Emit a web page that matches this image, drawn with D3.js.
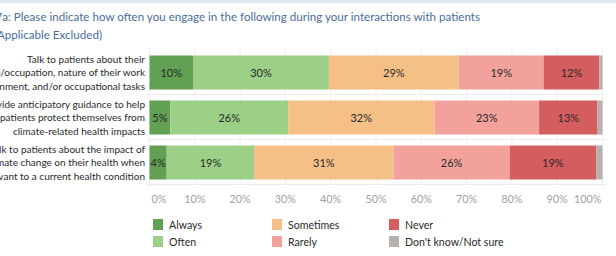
<!DOCTYPE html>
<html><head><meta charset="utf-8">
<script src="https://cdn.jsdelivr.net/npm/d3@7"></script>
<style>
html,body{margin:0;padding:0;background:#fff;overflow:hidden}
svg{display:block;font-family:Lato,"Noto Sans",sans-serif}
</style></head>
<body><svg id="c" width="616" height="256"></svg>
<script>
const categories = [
  ["Talk to patients about their", "job/occupation, nature of their work", "environment, and/or occupational tasks"],
  ["Provide anticipatory guidance to help", "patients protect themselves from", "climate-related health impacts"],
  ["Talk to patients about the impact of", "climate change on their health when", "relevant to a current health condition"]
];
const seriesNames = ["Always", "Often", "Sometimes", "Rarely", "Never", "Don't know/Not sure"];
const seriesColors = ["#62a053", "#9bd086", "#f5c086", "#f2a19c", "#d45d5f", "#b8b0ac"];
const always    = [9.6, 4.6, 3.8];
const often     = [30.0, 26.0, 19.3];
const sometimes = [28.7, 32.3, 30.8];
const rarely    = [18.7, 23.1, 25.6];
const never     = [12.3, 12.9, 19.1];
const dontKnow  = [0.7, 1.1, 1.4];
const tickValues = [0, 10, 20, 30, 40, 50, 60, 70, 80, 90, 100];
const titleLine1 = "Q7a: Please indicate how often you engage in the following during your interactions with patients";
const titleLine2 = "(Not Applicable Excluded)";

const series = [always, often, sometimes, rarely, never, dontKnow];
const svg = d3.select("#c");

// top band
svg.append("rect").attr("x", 0).attr("y", 0).attr("width", 616).attr("height", 3).attr("fill", "#dce8f3");

// title
const t1 = svg.append("text").attr("y", 21).attr("fill", "#4a6d9d").attr("font-size", 11.6).text(titleLine1);
const w1 = t1.node().getComputedTextLength();
t1.attr("x", 480 - w1);
svg.append("text").attr("x", 102).attr("y", 39).attr("text-anchor", "end").attr("fill", "#4a6d9d").attr("font-size", 11.6).text(titleLine2);

const x = d3.scaleLinear().domain([0, 100]).range([149.5, 602.5]);
const y = d3.scaleBand().domain(d3.range(categories.length)).range([50, 185]).paddingInner(0).paddingOuter(0);
const barH = 34;

// grid
svg.append("g").selectAll("line").data(tickValues).join("line")
  .attr("x1", d => x(d)).attr("x2", d => x(d)).attr("y1", 48).attr("y2", 188)
  .attr("stroke", "#f0f0f0").attr("stroke-width", 1);
svg.append("g").selectAll("line").data(d3.range(1, categories.length + 1)).join("line")
  .attr("x1", 147).attr("x2", 606).attr("y1", d => y.step() * d + 50 - 0.5).attr("y2", d => y.step() * d + 50 - 0.5)
  .attr("stroke", "#ececec");

// stacked bars
const stackData = categories.map((c, i) => {
  let acc = 0;
  return series.map((s, k) => { const v = s[i]; const o = {i, k, x0: acc, x1: acc + v, v}; acc += v; return o; });
});
const g = svg.append("g");
stackData.forEach(row => {
  g.selectAll(null).data(row).join("rect")
    .attr("x", d => x(d.x0)).attr("width", d => x(d.x1) - x(d.x0))
    .attr("y", d => y(d.i) + (y.bandwidth() - barH) / 2).attr("height", barH)
    .attr("fill", d => seriesColors[d.k]);
  g.selectAll(null).data(row.filter(d => d.k < 5)).join("text")
    .attr("x", d => (x(d.x0) + x(d.x1)) / 2).attr("y", d => y(d.i) + y.bandwidth() / 2 + 4)
    .attr("text-anchor", "middle").attr("font-size", 11).attr("fill", "#2a2a2a")
    .text(d => Math.round(d.v) + "%");
});

// category labels
categories.forEach((lines, i) => {
  lines.forEach((ln, j) => {
    svg.append("text").attr("x", 145).attr("y", y(i) + y.bandwidth() / 2 - 10 + j * 13.5)
      .attr("text-anchor", "end").attr("font-size", 10).attr("fill", "#2a2a2a").text(ln);
  });
});

// axis tick labels
svg.append("g").selectAll("text").data(tickValues).join("text")
  .attr("x", (d, i) => i === 0 ? x(d) + 2 : i === tickValues.length - 1 ? x(d) - 1 : x(d))
  .attr("y", 203)
  .attr("text-anchor", (d, i) => i === 0 ? "start" : i === tickValues.length - 1 ? "end" : "middle")
  .attr("font-size", 10.8).attr("fill", "#a0a0a0").text(d => d + "%");

// legend
const legX = [153, 272, 389], legY = [219, 236];
const lg = svg.append("g");
seriesNames.forEach((n, k) => {
  const cx = legX[Math.floor(k / 2)], cy = legY[k % 2];
  lg.append("rect").attr("x", cx).attr("y", cy).attr("width", 10).attr("height", 11).attr("fill", seriesColors[k]);
  lg.append("text").attr("x", cx + 16).attr("y", cy + 9.5).attr("font-size", 10.6).attr("fill", "#2a2a2a").text(n);
});
</script></body></html>
